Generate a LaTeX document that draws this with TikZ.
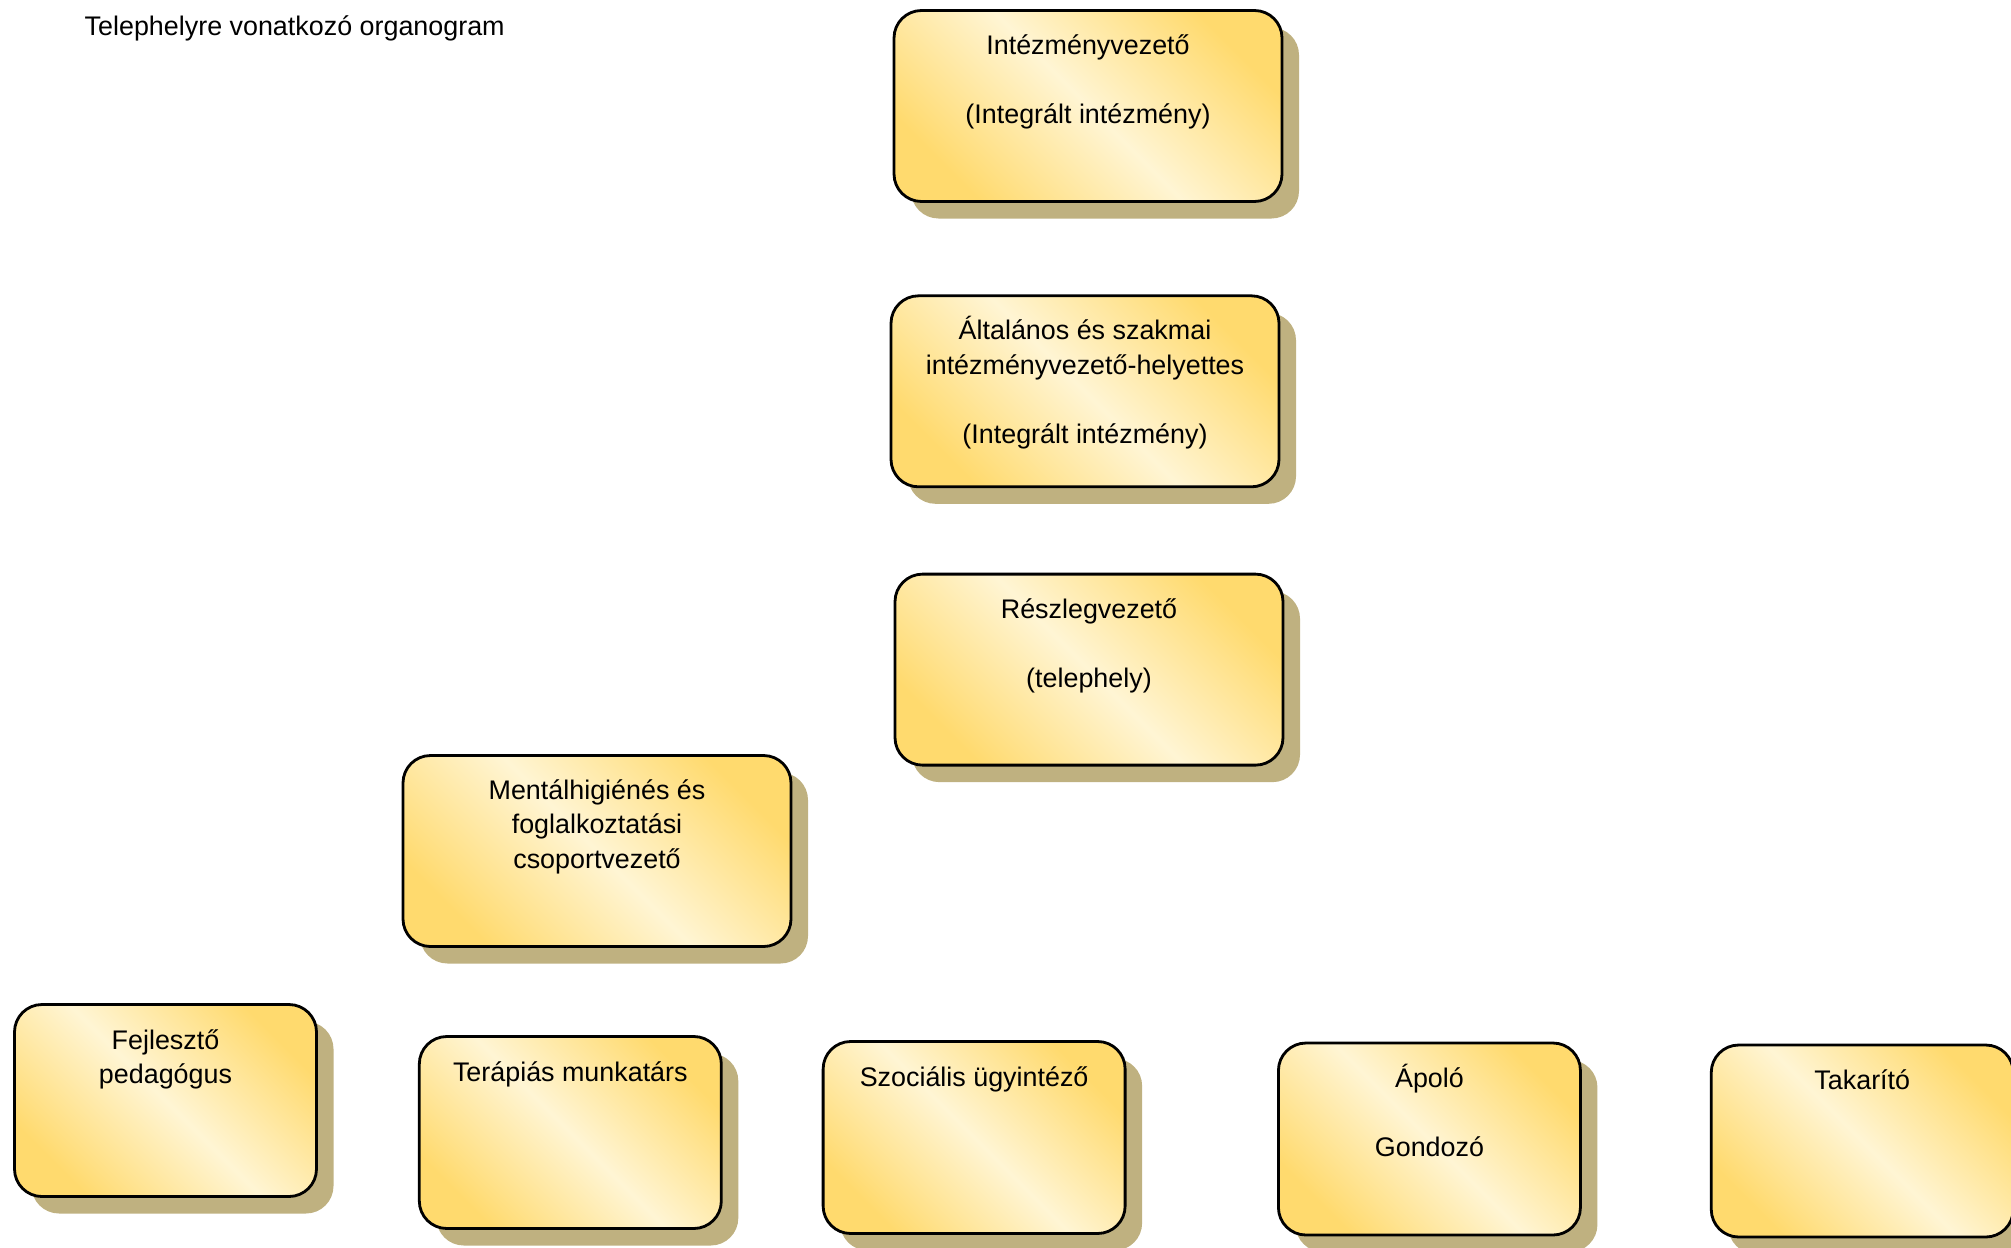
\documentclass[tikz,border=0pt]{standalone}
\usepackage{fontspec}
\setmainfont{Liberation Sans}
\usetikzlibrary{positioning,shadows}

\definecolor{sarga}{HTML}{FFDA6E}
\definecolor{halvany}{HTML}{FFF5D4}
\definecolor{arnyek}{HTML}{BFB180}

% szöveg a doboz tetején
\newcommand{\nszov}[1]{\parbox[c][3.82cm][t]{7.4cm}{\centering\rule{0pt}{0.88cm}#1}}
\newcommand{\kszov}[1]{\parbox[c][3.82cm][t]{5.8cm}{\centering\rule{0pt}{0.88cm}#1}}

\begin{document}
\begin{tikzpicture}[
			doboz/.style={rectangle, draw, line width=1.6pt, rounded corners=0.55cm, inner sep=0pt,
				top color=sarga, bottom color=sarga, middle color=halvany, shading angle=-45,
				drop shadow={shadow xshift=0.34cm, shadow yshift=-0.34cm, fill=arnyek, opacity=1},
				font=\fontsize{15.3pt}{19.6pt}\selectfont},
			nagydoboz/.style={doboz, minimum width=7.76cm, minimum height=3.82cm},
			kisdoboz/.style={doboz, minimum width=6.04cm, minimum height=3.84cm}
			]
			\useasboundingbox (0,0) rectangle (40.22,-24.94);
			
			% cím
			\node[anchor=west, font=\fontsize{15.3pt}{19.6pt}\selectfont] (cim) at (1.57,-0.56) {Telephelyre vonatkozó organogram};
			
			% vezetők egymás alatt
			\node[nagydoboz] (vez) at (21.76,-2.12) {\nszov{Intézményvezető\\[\baselineskip](Integrált intézmény)}};
			\node[nagydoboz, below=1.83cm of vez, xshift=-0.06cm] (helyettes) {\nszov{Általános és szakmai\\intézményvezető-helyettes\\[\baselineskip](Integrált intézmény)}};
			\node[nagydoboz, below=1.69cm of helyettes, xshift=0.08cm] (reszleg) {\nszov{Részlegvezető\\[\baselineskip](telephely)}};
			
			% csoportvezető
			\node[nagydoboz] (mental) at (11.94,-17.02) {\nszov{Mentálhigiénés és\\foglalkoztatási\\csoportvezető}};
			
			% munkatársak az alsó sorban
			\node[kisdoboz] (fejleszto) at (3.31,-22.01) {\kszov{Fejlesztő\\pedagógus}};
			\node[kisdoboz, right=2.00cm of fejleszto, yshift=-0.64cm] (terapias) {\kszov{Terápiás munkatárs}};
			\node[kisdoboz, right=1.98cm of terapias, yshift=-0.10cm] (szocialis) {\kszov{Szociális ügyintéző}};
			\node[kisdoboz, right=3.01cm of szocialis, yshift=-0.03cm] (apolo) {\kszov{Ápoló\\[\baselineskip]Gondozó}};
			\node[kisdoboz, right=2.56cm of apolo, yshift=-0.04cm] (takarito) {\kszov{Takarító}};
			
		\end{tikzpicture}
\end{document}
